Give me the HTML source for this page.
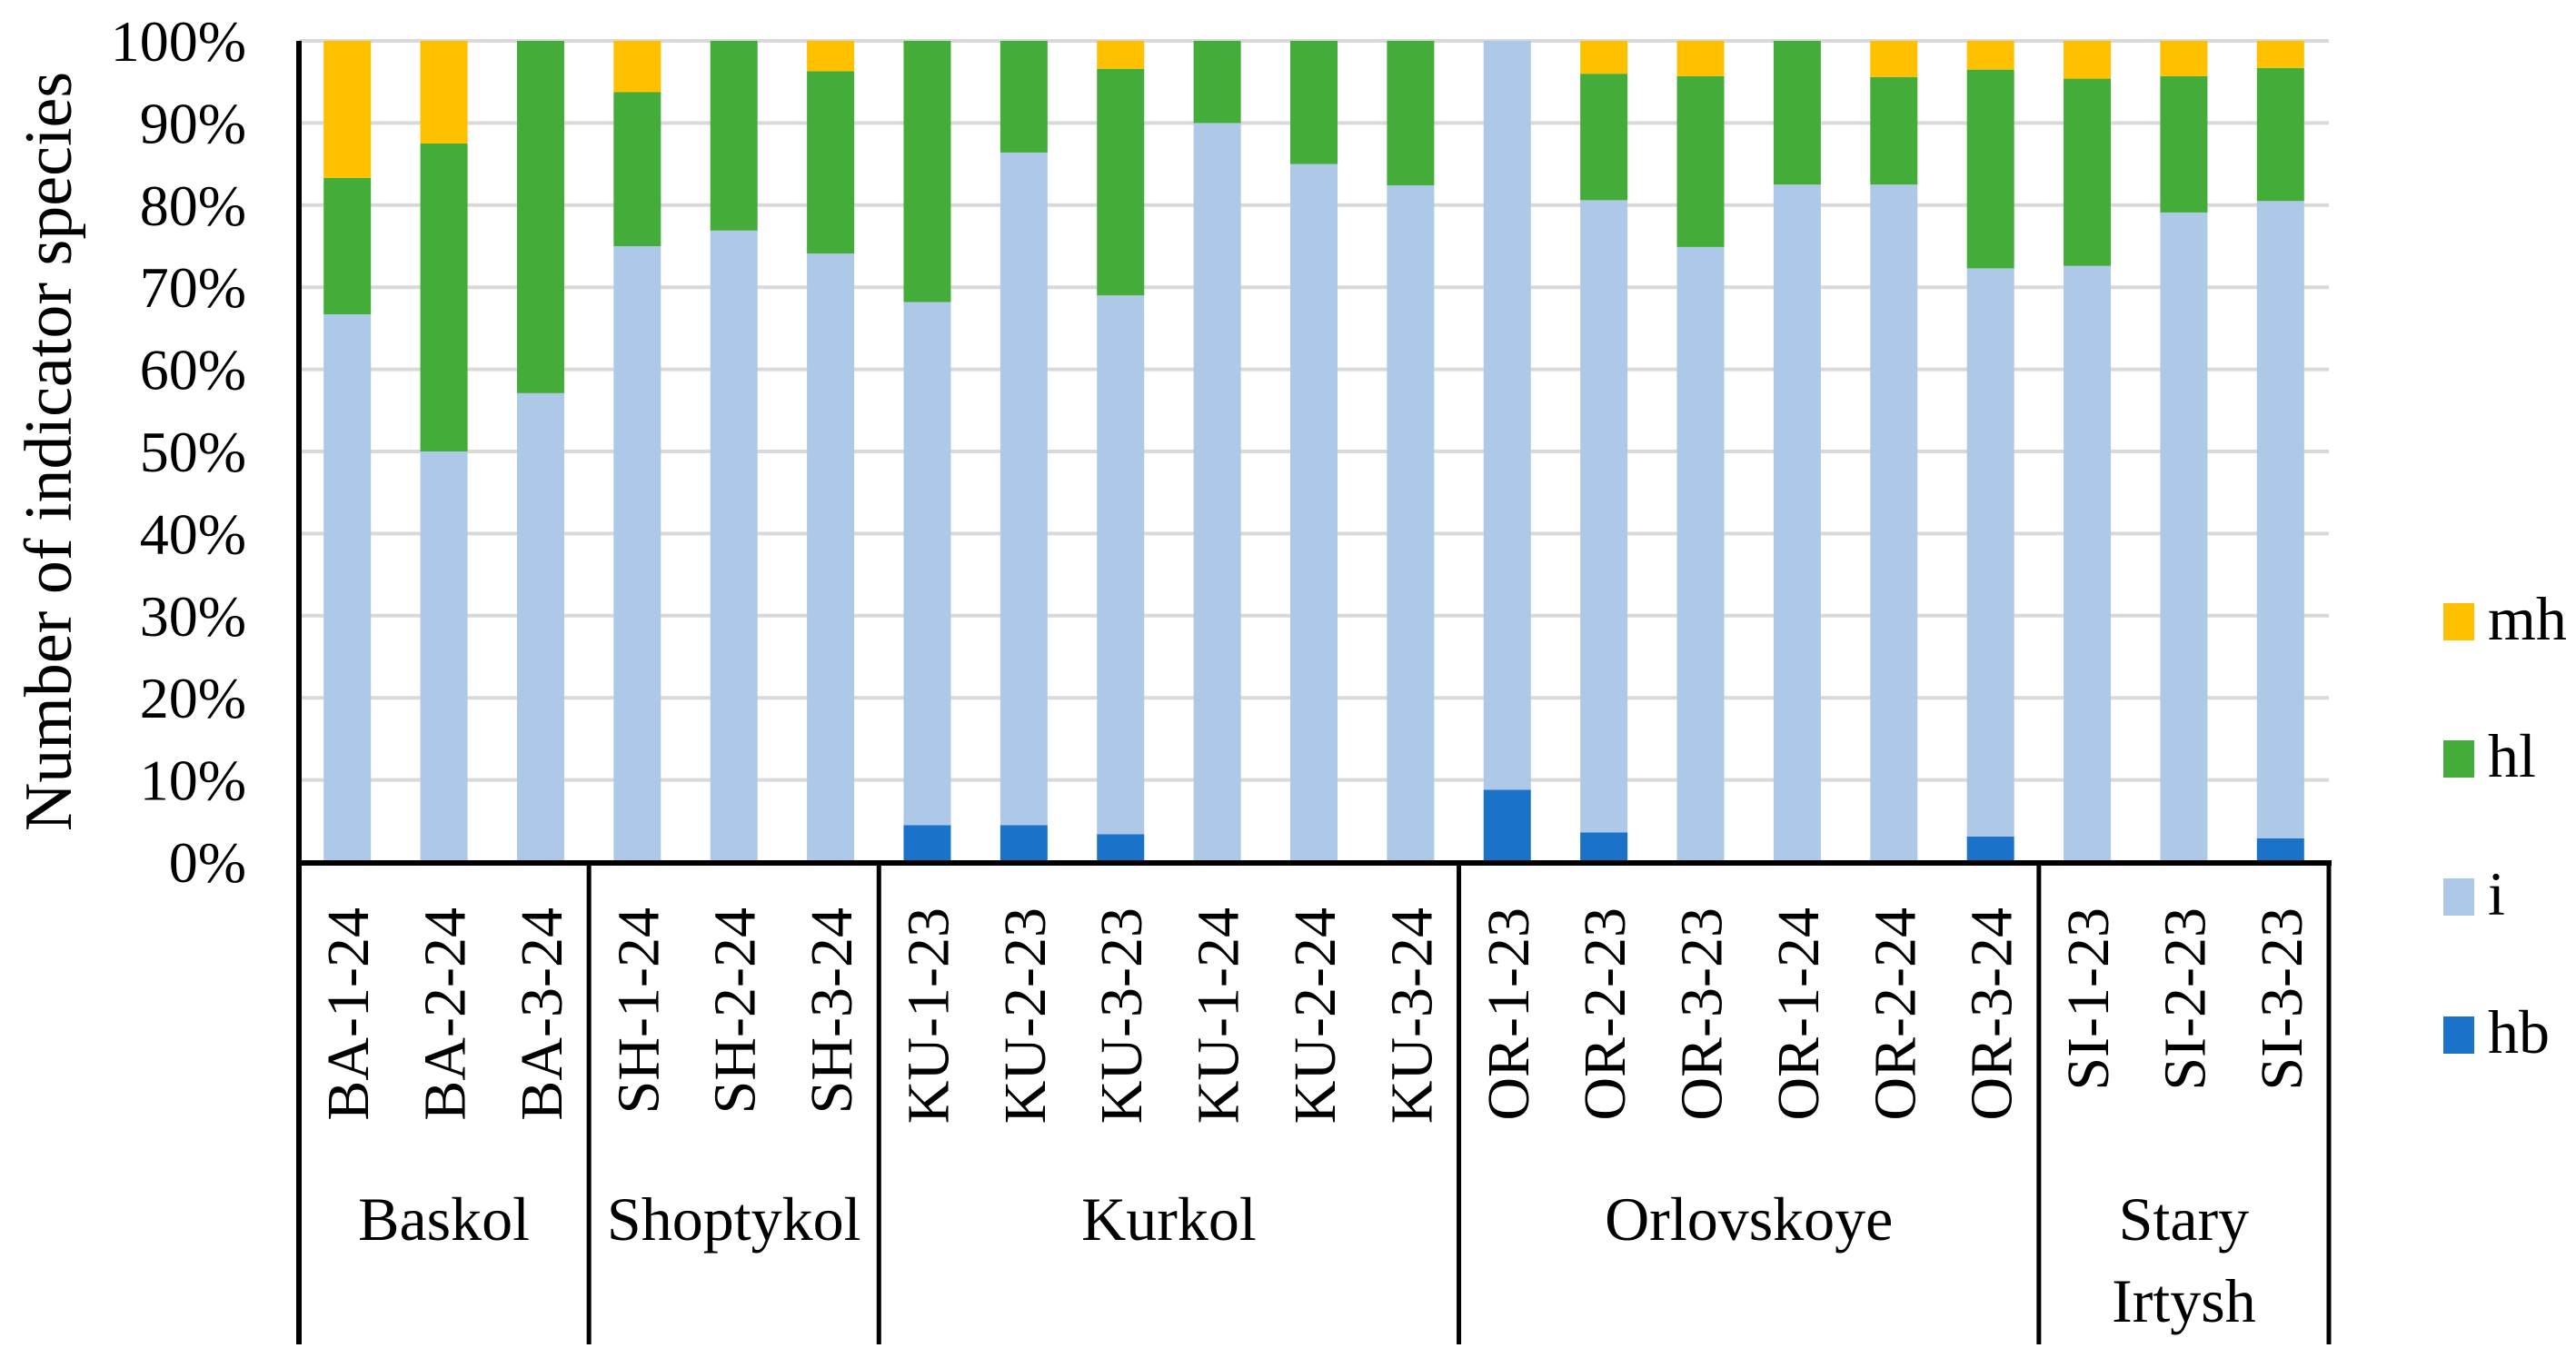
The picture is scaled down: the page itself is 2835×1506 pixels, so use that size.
<!DOCTYPE html>
<html><head><meta charset="utf-8"><style>
html,body{margin:0;padding:0;background:#fff;}
svg{display:block;font-family:"Liberation Serif",serif;}
</style></head><body>
<svg id="chart" width="2835" height="1506" viewBox="0 0 2835 1506" xmlns="http://www.w3.org/2000/svg">
<g id="grid"></g>
<g id="bars"></g>
<g id="axes"></g>
<g id="legend"></g>
<text x="0" y="0" transform="translate(78,497) rotate(-90)" text-anchor="middle" font-size="74">Number of indicator species</text>
</svg>
<script>
const categories = ["BA-1-24","BA-2-24","BA-3-24","SH-1-24","SH-2-24","SH-3-24","KU-1-23","KU-2-23","KU-3-23","KU-1-24","KU-2-24","KU-3-24","OR-1-23","OR-2-23","OR-3-23","OR-1-24","OR-2-24","OR-3-24","SI-1-23","SI-2-23","SI-3-23"];
const groups = [["Baskol"],["Shoptykol"],["Kurkol"],["Orlovskoye"],["Stary","Irtysh"]];
const groupSizes = [3,3,6,6,3];
const hb = [0,0,0,0,0,0,4.5,4.5,3.4,0,0,0,8.8,3.6,0,0,0,3.1,0,0,2.9];
const iv = [66.7,50,57.1,75,76.9,74.1,63.7,81.9,65.6,90,85,82.4,91.2,77.0,74.9,82.5,82.5,69.2,72.6,79.1,77.6];
const hl = [16.6,37.5,42.9,18.75,23.1,22.2,31.8,13.6,27.6,10,15,17.6,0,15.4,20.8,17.5,13.1,24.2,22.8,16.6,16.2];
const mh = [16.7,12.5,0,6.25,0,3.7,0,0,3.4,0,0,0,0,4.0,4.3,0,4.4,3.5,4.6,4.3,3.3];
const seriesNames = ["hb","i","hl","mh"];
const yTicks = [0,10,20,30,40,50,60,70,80,90,100];

const NS="http://www.w3.org/2000/svg";
const colors={hb:"#1A73C8",i:"#AEC8E8",hl:"#44AD3A",mh:"#FFC000"};
const L=329,R=2563,T=45,B=949;
const bandW=(R-L)/categories.length, barW=52;
function xC(i){return L+bandW*(i+0.5);}
function y(v){return B-(B-T)*v/100;}
function mk(tag,attrs,parent){const e=document.createElementNS(NS,tag);for(const k in attrs)e.setAttribute(k,attrs[k]);parent.appendChild(e);return e;}
const grid=document.getElementById('grid'),bars=document.getElementById('bars'),axes=document.getElementById('axes'),legend=document.getElementById('legend');

yTicks.forEach(t=>{
  if(t>0){const g=mk('line',{x1:L,x2:R,y1:y(t),y2:y(t),stroke:'#D9D9D9','stroke-width':4},grid);
  
  }
  const tx=mk('text',{x:271,y:y(t)+22,'text-anchor':'end','font-size':64},axes);
  tx.textContent=t+'%';
  
  
});

const series={hb:hb,i:iv,hl:hl,mh:mh};
categories.forEach((c,i)=>{
  let acc=0;
  seriesNames.forEach(s=>{
    const v=series[s][i];
    if(v>0){
      const r=mk('rect',{x:xC(i)-barW/2,y:y(acc+v),width:barW,height:y(acc)-y(acc+v),fill:colors[s]},bars);
      
      
    }
    acc+=v;
  });
  const lx=xC(i)+23;
  const lt=mk('text',{x:0,y:0,transform:'translate('+lx+',999) rotate(-90)','text-anchor':'end','font-size':66},axes);
  lt.textContent=c;
  
  
});

const ya=mk('line',{x1:L,x2:L,y1:T,y2:1480,stroke:'#000','stroke-width':6},axes);


const xa=mk('line',{x1:L-3,x2:R+3,y1:B+1,y2:B+1,stroke:'#000','stroke-width':6},axes);


let start=0;
groupSizes.forEach((n,gi)=>{
  const xe=L+bandW*(start+n);
  const sl=mk('line',{x1:xe,x2:xe,y1:B,y2:1480,stroke:'#000','stroke-width':5},axes);
  
  
  const cx=L+bandW*(start+n/2);
  const lines=groups[gi];
  lines.forEach((ln,li)=>{
    const gt=mk('text',{x:cx,y:1365+li*90,'text-anchor':'middle','font-size':68},axes);
    gt.textContent=ln;
    
    
  });
  start+=n;
});

const legendOrder=["mh","hl","i","hb"];
const legendY=[664,815,967,1119];
legendOrder.forEach((s,k)=>{
  const r=mk('rect',{x:2689,y:legendY[k],width:34,height:41,fill:colors[s]},legend);
  
  
  const t=mk('text',{x:2738,y:legendY[k]+40,'font-size':68},legend);
  t.textContent=s;
  
  
});
</script>
</body></html>
